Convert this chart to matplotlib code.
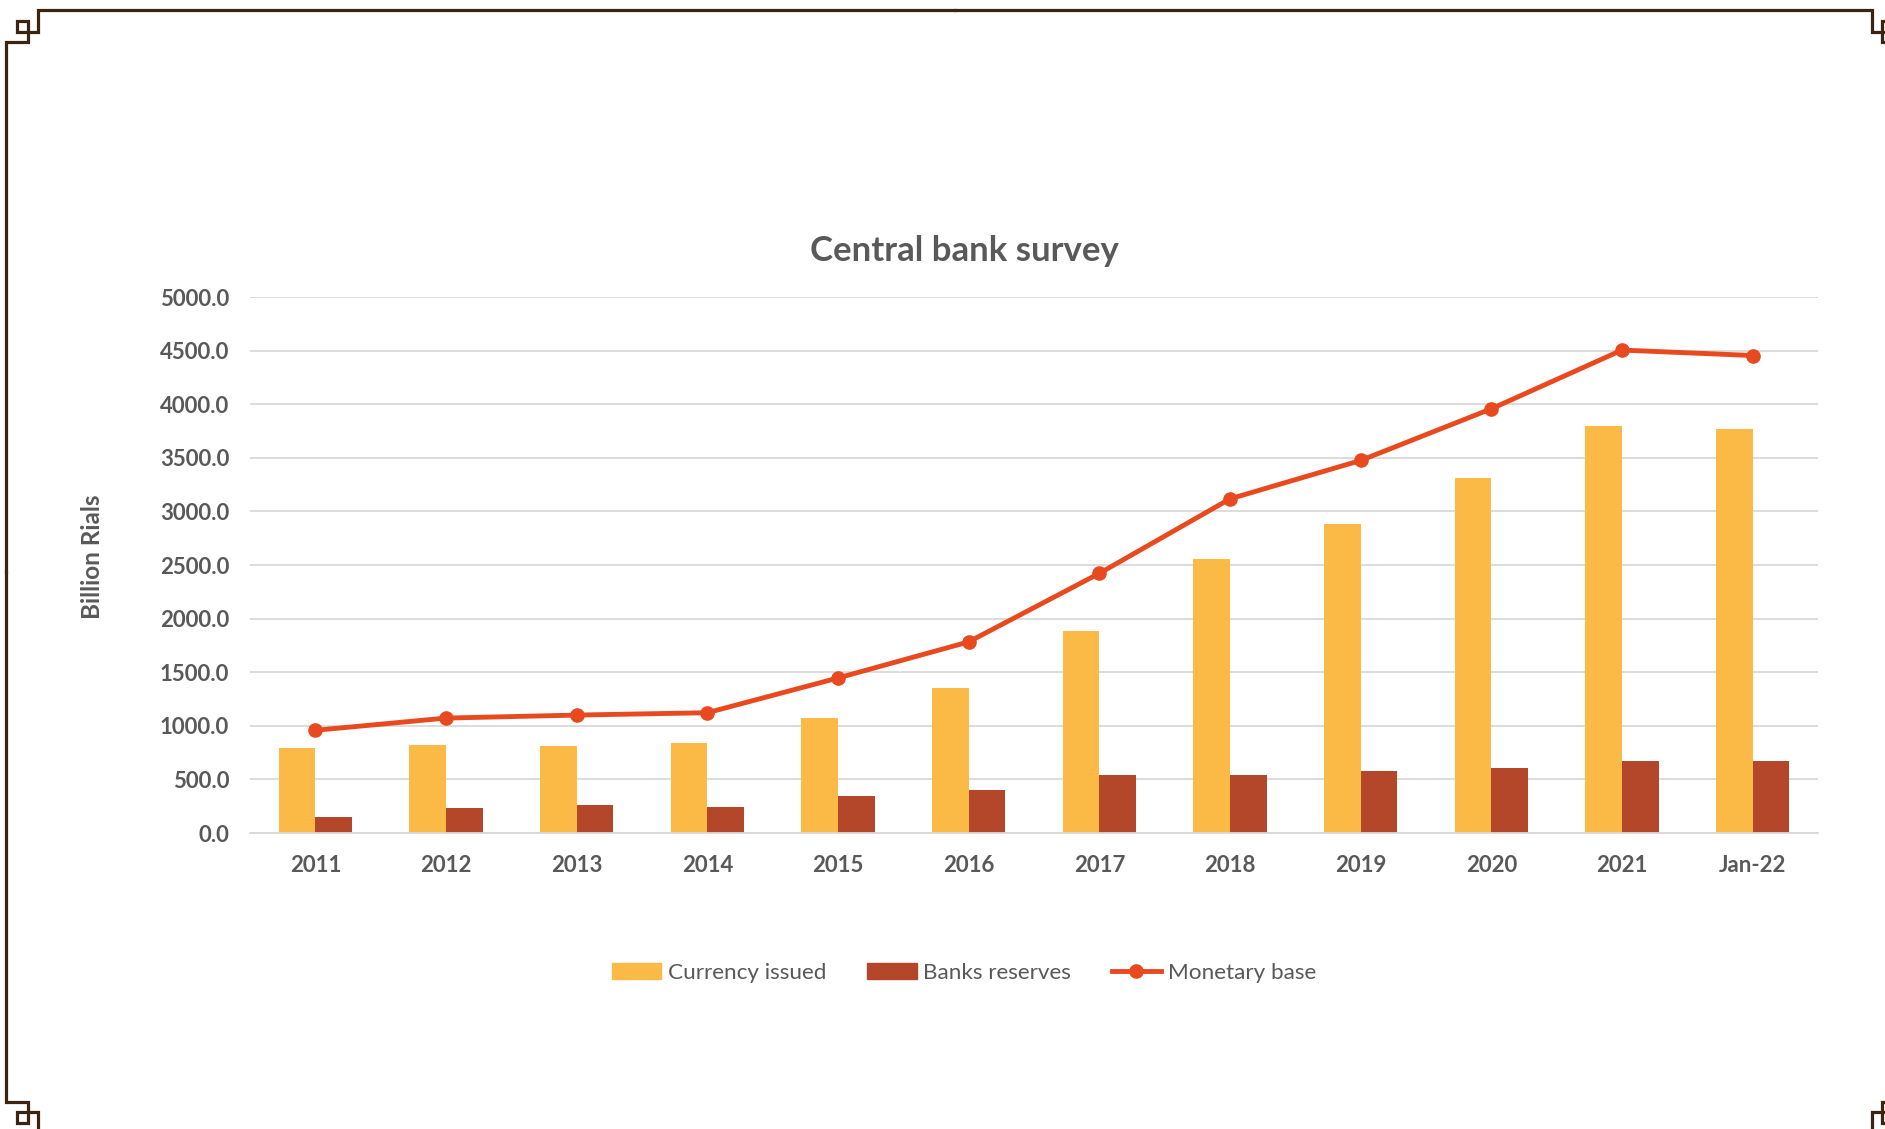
import numpy as np
import matplotlib
matplotlib.use("Agg")
import matplotlib.pyplot as plt
from matplotlib.lines import Line2D

years = ['2011', '2012', '2013', '2014', '2015', '2016', '2017', '2018',
         '2019', '2020', '2021', 'Jan-22']
currency_issued = [790, 825, 809, 844, 1076, 1357, 1883, 2556, 2881, 3307, 3800, 3769]
banks_reserves = [150, 232, 263, 245, 348, 404, 538, 538, 583, 605, 676, 676]
monetary_base = [958, 1072, 1100, 1122, 1446, 1783, 2422, 3117, 3475, 3957, 4505, 4454]

c_cur = '#FBB946'
c_bank = '#B4472A'
c_line = '#E9491F'
c_text = '#595959'
c_grid = '#D9D9D9'
c_frame = '#3B2512'

plt.rcParams['font.family'] = ['Lato', 'DejaVu Sans']

W, H = 1885, 1129
fig = plt.figure(figsize=(W / 100, H / 100), dpi=100)
ax = fig.add_axes([250 / W, 1 - 833 / H, (1818 - 250) / W, (833 - 297) / H])

x = np.arange(len(years))
bw = 0.28
ax.bar(x - bw / 2, currency_issued, bw, color=c_cur, zorder=2)
ax.bar(x + bw / 2, banks_reserves, bw, color=c_bank, zorder=2)
ax.plot(x, monetary_base, color=c_line, lw=3.5, marker='o', ms=9.5, zorder=3)

ax.set_xlim(-0.5, len(years) - 0.5)
ax.set_ylim(0, 5000)
ax.set_yticks(np.arange(0, 5001, 500))
ax.set_yticklabels(['%.1f' % v for v in np.arange(0, 5001, 500)])
ax.set_xticks(x)
ax.set_xticklabels(years)
ax.grid(axis='y', color=c_grid, lw=1.3, zorder=0)
for s in ['top', 'right', 'left']:
    ax.spines[s].set_visible(False)
ax.spines['bottom'].set_color(c_grid)
ax.spines['bottom'].set_linewidth(1.3)
ax.tick_params(length=0, labelcolor=c_text, labelsize=16)
ax.tick_params(axis='y', pad=15)
ax.tick_params(axis='x', pad=16)
for lab in ax.get_xticklabels() + ax.get_yticklabels():
    lab.set_fontweight('bold')

ax.set_ylabel('Billion Rials', fontsize=17.5, fontweight='bold', color=c_text)
ax.yaxis.set_label_coords(-0.093, 0.515)

fig.text(964 / W, 1 - 251 / H, 'Central bank survey', ha='center', va='center',
         fontsize=25, fontweight='bold', color=c_text)

handles = [plt.Rectangle((0, 0), 1, 1, color=c_cur),
           plt.Rectangle((0, 0), 1, 1, color=c_bank),
           Line2D([], [], color=c_line, lw=3.5, marker='o', ms=9.5)]
fig.legend(handles, ['Currency issued', 'Banks reserves', 'Monetary base'],
           loc='center', bbox_to_anchor=(964 / W, 1 - 973 / H), ncol=3,
           frameon=False, fontsize=16.2, labelcolor=c_text,
           handlelength=2.2, handleheight=0.75, handletextpad=0.3,
           columnspacing=1.8)

# decorative frame (figure pixel coords, mirrored)
def key_path(mx=False, my=False):
    xs = np.array([6, 6, 27.7, 27.7, 16.7, 16.7, 38, 38, 954.85])
    ys = np.array([571.7, 41.7, 41.7, 20.7, 20.7, 31.7, 31.7, 10, 10])
    if mx:
        xs = 2 * 954.85 - xs
    if my:
        ys = 2 * 571.7 - ys
    return xs, H - ys

for mx in (False, True):
    for my in (False, True):
        px, py = key_path(mx, my)
        fig.add_artist(Line2D(px / W, py / H, color=c_frame, lw=2.3,
                              solid_joinstyle='miter', transform=fig.transFigure))

fig.savefig('out.png', dpi=100, facecolor='white')
